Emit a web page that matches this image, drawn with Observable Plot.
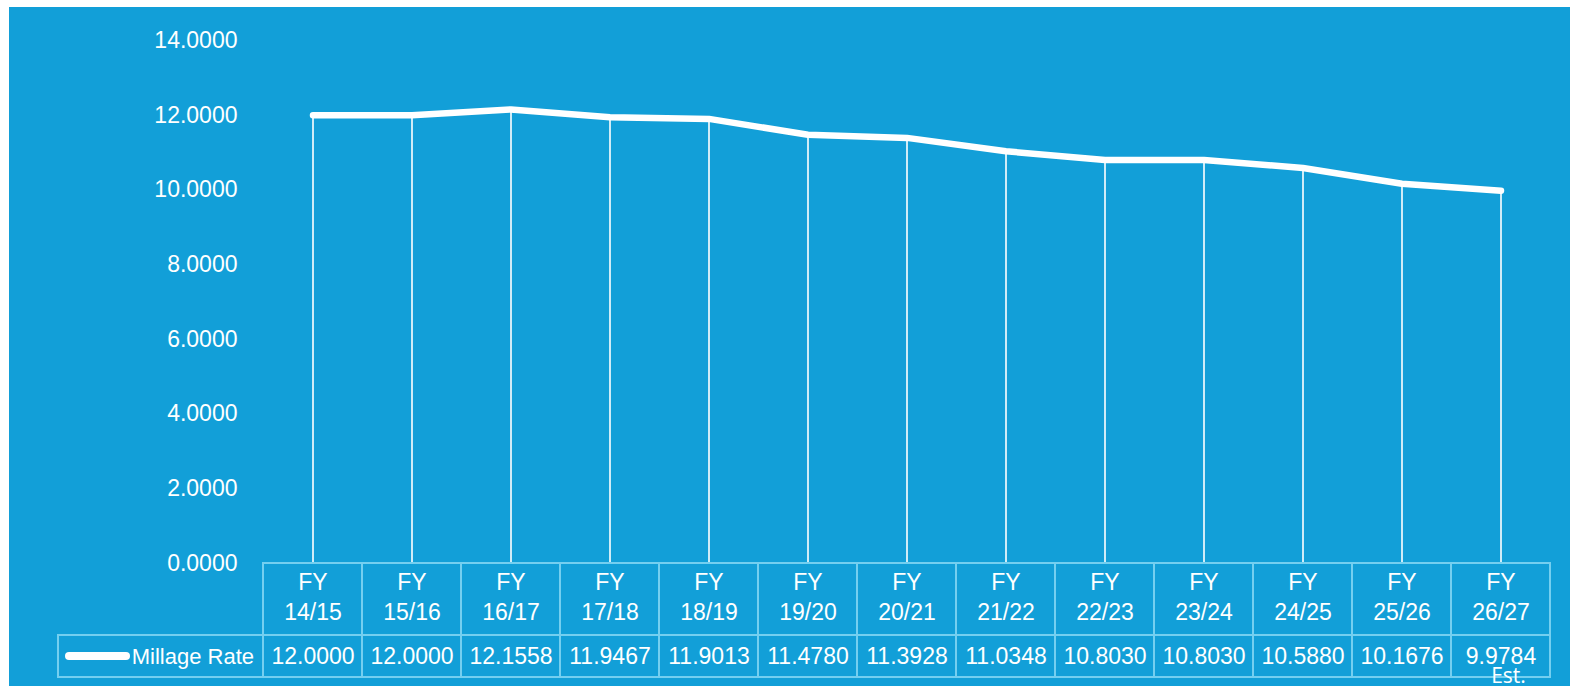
<!DOCTYPE html>
<html><head><meta charset="utf-8">
<script src="https://cdn.jsdelivr.net/npm/d3@7"></script>
<script src="https://cdn.jsdelivr.net/npm/@observablehq/plot@0.6"></script>
<style>
html,body{margin:0;padding:0;background:#fff;}
#wrap{position:absolute;left:9px;top:7px;width:1561px;height:679px;background:#129fd8;overflow:hidden}
</style></head><body><div id="wrap"></div>
<script>
const fiscalYears = ["14/15","15/16","16/17","17/18","18/19","19/20","20/21","21/22","22/23","23/24","24/25","25/26","26/27"];
const millageRates = [12.0000,12.0000,12.1558,11.9467,11.9013,11.4780,11.3928,11.0348,10.8030,10.8030,10.5880,10.1676,9.9784];
const yTicks = [0,2,4,6,8,10,12,14];
const headerPrefix = "FY";
const seriesName = "Millage Rate";
const noteText = "Est.";

const data = fiscalYears.map((fy, i) => ({fy, rate: millageRates[i]}));
const fmt = d3.format(".4f");
const HEAD = -1.927, FOOT = -3.052;
const borderColor = "#74cff0";

const chart = Plot.plot({
  width: 1561, height: 679,
  marginLeft: 254, marginRight: 20, marginTop: 33, marginBottom: 123,
  style: {background: "#129fd8", color: "#fff", fontFamily: "'Liberation Sans', Arial, sans-serif", fontSize: "23px", overflow: "visible"},
  x: {domain: fiscalYears, padding: 0, axis: null},
  y: {domain: [0, 14], axis: null},
  marks: [
    Plot.axisY({ticks: yTicks, tickFormat: fmt, tickSize: 0, tickPadding: 26, fontSize: 23, label: null}),
    Plot.ruleX(data, {x: "fy", y1: 0, y2: "rate", stroke: "#fff", strokeWidth: 2, strokeOpacity: 0.8}),
    Plot.line(data, {x: "fy", y: "rate", stroke: "#fff", strokeWidth: 6.5, strokeLinecap: "round", strokeLinejoin: "round"}),
    Plot.barY(data, {x: "fy", y1: 0, y2: HEAD, fill: "none", stroke: borderColor, strokeWidth: 2}),
    Plot.barY(data, {x: "fy", y1: HEAD, y2: FOOT, fill: "none", stroke: borderColor, strokeWidth: 2}),
    Plot.text(data, {x: "fy", y: 0, text: d => headerPrefix, dy: 19, fill: "#fff", fontSize: 23, lineAnchor: "middle"}),
    Plot.text(data, {x: "fy", y: 0, text: "fy", dy: 49, fill: "#fff", fontSize: 23, lineAnchor: "middle"}),
    Plot.text(data, {x: "fy", y: HEAD, text: d => fmt(d.rate), dy: 21, fill: "#fff", fontSize: 23, lineAnchor: "middle"})
  ]
});

const sx = chart.scale("x"), sy = chart.scale("y");
const bw = sx.bandwidth;
const svg = d3.select(chart);
const x0 = sx.apply(fiscalYears[0]);
const yTop = sy.apply(HEAD), yBot = sy.apply(FOOT);
svg.append("rect").attr("x", 49).attr("y", yTop).attr("width", x0 - 49).attr("height", yBot - yTop)
  .attr("fill", "none").attr("stroke", borderColor).attr("stroke-width", 2);
svg.append("line").attr("x1", 60).attr("x2", 117).attr("y1", (yTop + yBot) / 2).attr("y2", (yTop + yBot) / 2)
  .attr("stroke", "#fff").attr("stroke-width", 8).attr("stroke-linecap", "round");
svg.append("text").attr("x", x0 - 9).attr("y", (yTop + yBot) / 2).attr("dy", "0.35em")
  .attr("text-anchor", "end").attr("fill", "#fff").attr("font-size", 22).text(seriesName);
const xl = sx.apply(fiscalYears[fiscalYears.length - 1]) + bw / 2;
svg.append("text").attr("x", xl + 8).attr("y", yBot - 1).attr("dy", "0.35em")
  .attr("text-anchor", "middle").attr("fill", "#fff").attr("font-size", 21)
  .attr("font-family", "'Open Sans', sans-serif").text(noteText);

document.getElementById("wrap").appendChild(chart);
</script></body></html>
